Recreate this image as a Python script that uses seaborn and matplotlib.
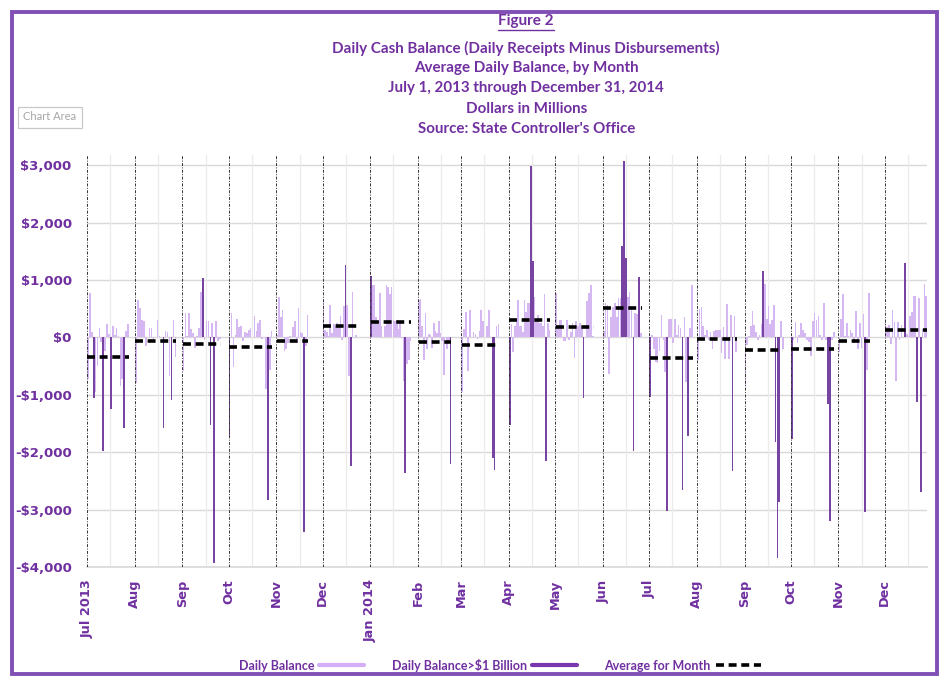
import numpy as np
import pandas as pd
import seaborn as sns
import matplotlib.pyplot as plt
from matplotlib.lines import Line2D
from matplotlib.patches import Rectangle

# daily balance ($ millions), one list per month, business days in order (0 = no data)
jul13 = [-720, 770, 100, -1050, -950, -500, 170, -80, -1970, -230, 230, 60, -1250, 200, 40,
         170, 20, -850, -730, -1580, 120, 230, 0, 0, 0]
aug13 = [-800, 660, 510, 300, 290, -150, 0, 160, 160, -20, 0, 310, 20, 0, -1580, 120, 100,
         -680, -1090, 310, -340, 0, 0, 0]
sep13 = [-580, 420, 30, 420, 140, 80, -180, 30, 170, 800, 1030, -50, 280, 280, -1530, 250,
         -3930, 280, -60, -20, 0, 0, 0, 0]
oct13 = [-1720, 420, -520, 50, 330, 180, 200, -60, 100, 80, 130, 160, 0, 380, 120, 260, 300,
         -20, 0, -900, -2830, -560, 120, 0, 0]
nov13 = [50, 700, 350, 480, -240, -200, -100, 30, 0, 190, 290, -100, 510, 100, 80, -3390,
         -150, 400, 0, 0, 0, 0, 0, 0, 0, 0]
dec13 = [620, 130, 100, 20, 560, 70, 240, 200, 250, 220, 380, -40, 550, 1260, 560, -680,
         -2240, 800, 0, 40, 0, 0, 0, 0, 0, 0, 0, 0]
jan14 = [1080, 910, 920, 360, 230, 780, 200, 0, 200, 920, 880, 760, 880, 300, 280, 300, 150,
         280, -10, -750, -2370, -460, -400, -70, 0, 0, 0, 0]
feb14 = [650, 670, 200, -390, 430, -200, 60, 50, -180, 250, 110, 70, 280, 80, -70, -650, 0,
         -200, -60, -2200, 0, 0, 0, 0, 0, 0]
mar14 = [-950, 140, 450, -580, 480, 0, 90, 60, -20, 110, 480, 280, 0, 200, 480, 0, -2100,
         -2310, 200, 240, 0, 0, 0, 0, 0]
apr14 = [-1530, 240, -250, 200, 330, 660, 200, 200, 100, 660, 450, 600, 600, 2990, 1340, 700,
         300, 400, 250, 250, 200, 760, -2160, 250, 130, 0, 0, 0]
may14 = [770, 180, 300, 300, -60, -60, 300, -50, 100, 250, -360, 280, 200, 260, 160, -1060,
         0, 630, 780, 910, 30, 0, 0, 0, 0, 0]
jun14 = [120, 600, 570, -630, 360, 530, 600, 350, 690, 690, 1600, 3080, 1380, 700, 800, 540,
         -1980, 430, 410, 1050, 80, 0, 0, 0, 0]
jul14 = [-1030, 40, -200, -420, -450, -230, 400, -50, -600, -3020, 320, 330, -100, 330, 40,
         210, 170, -2650, 360, -770, -1720, 160, 910, 0, 0]
aug14 = [-400, 500, 530, 200, 40, 130, -40, 90, -200, 120, 130, 130, 130, -270, 180, -370,
         580, -380, 390, -2320, 380, -250, 0, 0, 0, 0]
sep14 = [-850, -130, 30, 200, 470, 220, 90, -50, 40, 240, 1160, 940, 330, 540, 240, 300, 560,
         -1830, -3850, -2860, 280, -200, 0, 0, 0, 0]
oct14 = [-1770, -50, 270, -100, 50, 250, 130, 80, -50, -80, -330, 280, 430, 300, 370, 50, -50,
         600, -40, -1160, -3190, -50, 100, 0, 0]
nov14 = [-250, 320, 760, 30, 250, 30, 130, 70, -100, 470, -200, 250, -180, 410, -3050, -560,
         770, 0, 0, 0, 0, 0, 0, 0, 0]
dec14 = [300, 190, 210, -120, 480, 270, -760, 270, -50, 220, 0, 1290, 60, 30, 380, 450, 720,
         720, -1130, 690, -2690, 150, 940, 720]

daily = [jul13, aug13, sep13, oct13, nov13, dec13, jan14, feb14, mar14,
         apr14, may14, jun14, jul14, aug14, sep14, oct14, nov14, dec14]

# average for month
month_avg = [-340, -70, -110, -170, -55, 200, 275, -80, -135,
             310, 180, 505, -365, -20, -215, -195, -55, 135]

month_labels = ['Jul 2013', 'Aug', 'Sep', 'Oct', 'Nov', 'Dec', 'Jan 2014', 'Feb', 'Mar',
                'Apr', 'May', 'Jun', 'Jul', 'Aug', 'Sep', 'Oct', 'Nov', 'Dec']

purple = '#7030A0'
light = '#D5AEFA'
dark = '#7A35B0'

months = pd.date_range('2013-07-01', periods=19, freq='MS')
offs = [(m - months[0]).days for m in months]
x_end = 545.5

rows = []
avg_spans = []
for i, vals in enumerate(daily):
    n = len(vals)
    span = min(offs[i + 1], x_end) - offs[i]
    xs = offs[i] + (np.arange(n) + 0.5) * span / n
    for x, v in zip(xs, vals):
        rows.append({'day': x, 'value': v, 'kind': 'big' if abs(v) >= 1000 else 'small'})
    nz = [x for x, v in zip(xs, vals) if v != 0]
    avg_spans.append((offs[i] + 0.3, nz[-1] + 0.5))
df = pd.DataFrame(rows)

sns.set_theme(style='white')
plt.rcParams['font.family'] = ['DejaVu Sans']

fig = plt.figure(figsize=(9.43, 6.77), dpi=100)
ax = fig.add_axes([87 / 943, 1 - 567 / 677, (927 - 87) / 943, (567 - 155) / 677])

# gridlines
for yv in range(-4000, 4000, 1000):
    ax.axhline(yv, color='#D9D9D9', lw=1.0, zorder=0)
for i in range(18):
    ax.axvline(offs[i] + 15, color='#EBEBEB', lw=0.9, zorder=0)

sns.barplot(data=df, x='day', y='value', hue='kind', native_scale=True, dodge=False,
            palette={'small': light, 'big': dark}, hue_order=['small', 'big'],
            errorbar=None, width=1.0, legend=False, ax=ax, zorder=2, linewidth=0)

for i in range(18):
    ax.axvline(offs[i], color='#333333', lw=0.7, ls=(0, (3, 1.5, 1, 1.5)), zorder=3)

for (x0, x1), a in zip(avg_spans, month_avg):
    ax.plot([x0, x1], [a, a], color='black', lw=2.6, ls=(0, (2.2, 1.3)), zorder=4,
            solid_capstyle='butt', dash_capstyle='butt')

ax.set_xlim(0, x_end)
ax.set_ylim(-4000, 3180)
ax.set_yticks(range(-4000, 4000, 1000))
ax.set_yticklabels([f'-${abs(v):,}' if v < 0 else f'${v:,}' for v in range(-4000, 4000, 1000)],
                   color=purple, fontweight='bold', fontsize=9.5)
ax.set_xticks(offs[:18])
ax.set_xticklabels(month_labels, rotation=90, color=purple, fontweight='bold', fontsize=9.3,
                   va='top', ha='center')
ax.tick_params(axis='y', length=0, pad=11)
ax.tick_params(axis='x', length=0, pad=9)
ax.set_xlabel('')
ax.set_ylabel('')
for s in ['top', 'right', 'left']:
    ax.spines[s].set_visible(False)
ax.spines['bottom'].set_color('#D9D9D9')

# titles
tfont = dict(family=['Lato', 'DejaVu Sans'], fontweight='bold', color=purple, ha='center')
t0 = fig.text(0.558, 1 - 21 / 677, 'Figure 2', fontsize=11, va='center', **tfont)
title_lines = ['Daily Cash Balance (Daily Receipts Minus Disbursements)',
               'Average Daily Balance, by Month',
               'July 1, 2013 through December 31, 2014',
               'Dollars in Millions',
               "Source: State Controller's Office"]
for k, line in enumerate(title_lines):
    fig.text(0.558, 1 - (48 + 20.2 * k) / 677, line, fontsize=10.9, va='center', **tfont)

fig.canvas.draw()
bb = t0.get_window_extent().transformed(fig.transFigure.inverted())
fig.add_artist(Line2D([bb.x0, bb.x1], [bb.y0 - 0.003, bb.y0 - 0.003],
                      transform=fig.transFigure, color=purple, lw=1.0))

# "Chart Area" tooltip
fig.text(50 / 943, 1 - 117 / 677, 'Chart Area', fontsize=8, color='#A6A6A6', ha='center',
         va='center', family=['Lato', 'DejaVu Sans'],
         bbox=dict(boxstyle='square,pad=0.45', fc='white', ec='#C8C8C8', lw=0.9))

# legend
handles = [Line2D([], [], color=light, lw=3),
           Line2D([], [], color=dark, lw=3),
           Line2D([], [], color='black', lw=2.6, ls=(0, (2.2, 1.3)))]
fig.legend(handles, ['Daily Balance', 'Daily Balance>$1 Billion', 'Average for Month'],
           loc='center', bbox_to_anchor=(0.53, 1 - 665 / 677), ncol=3, frameon=False,
           markerfirst=False, handlelength=3.6, columnspacing=2.2, handletextpad=0.4,
           prop=dict(family=['Lato', 'DejaVu Sans'], weight='bold', size=9),
           labelcolor=purple)

# outer border
fig.add_artist(Rectangle((12 / 943, 3 / 677), 925 / 943, 662 / 677, transform=fig.transFigure,
                         fill=False, ec='#8050B5', lw=2.8))

fig.savefig('out.png', dpi=100)
